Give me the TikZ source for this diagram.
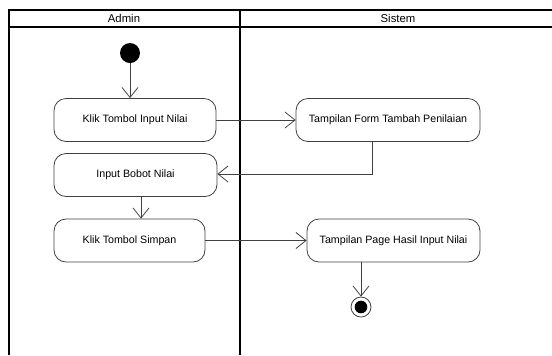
\documentclass[tikz,border=0pt]{standalone}
\usepackage{fontspec}
\setmainfont{Liberation Sans}
\usetikzlibrary{arrows.meta}
\begin{document}
\begin{tikzpicture}[x=0.75pt,y=-0.75pt,
  lane/.style={line width=1.5pt,black},
  act/.style={draw=black!75,line width=0.6pt,rounded corners=9pt,
    minimum height=32.25pt,font=\fontsize{8}{9}\selectfont,inner sep=0pt},
  flow/.style={draw=black!75,line width=0.6pt,
    -{Straight Barb[length=7.5pt,width=12pt,line width=0.6pt]}},
  lbl/.style={font=\fontsize{8.5}{10}\selectfont}]
\useasboundingbox (0,0) rectangle (552,355);
% swimlanes
\draw[lane] (9,355) -- (9,10) -- (552,10);
\draw[lane] (9,27) -- (552,27);
\draw[lane] (240,10) -- (240,355);
\node[lbl] (admin) at (124,18.5) {Admin};
\node[lbl] (sistem) at (398,18.5) {Sistem};
% activities
\node[circle,fill=black,minimum size=15pt,inner sep=0pt] (start) at (130,53) {};
\node[act,minimum width=121.5pt] (klik) at (135,120) {Klik Tombol Input Nilai};
\node[act,minimum width=122.25pt] (bobot) at (135.5,175) {Input Bobot Nilai};
\node[act,minimum width=113.25pt] (simpan) at (129.5,240.5) {Klik Tombol Simpan};
\node[act,minimum width=138pt] (form) at (388,120) {Tampilan Form Tambah Penilaian};
\node[act,minimum width=129.75pt] (hasil) at (393.5,240.5) {Tampilan Page Hasil Input Nilai};
\node[circle,draw=black!75,line width=0.6pt,minimum size=15pt,inner sep=0pt] (end) at (361,307) {};
\node[circle,fill=black,minimum size=9.5pt,inner sep=0pt] (endin) at (end) {};
% flows
\draw[flow] (start) -- (start |- klik.north);
\draw[flow] (klik.east) -- (form.west);
\draw[flow] (form.south -| 372,0) -- (372,174) -- (bobot.east |- 0,174);
\draw[flow] (bobot.south -| 141,0) -- (simpan.north -| 141,0);
\draw[flow] (simpan.east) -- (hasil.west);
\draw[flow] (hasil.south -| end) -- (end.north);
\end{tikzpicture}
\end{document}
